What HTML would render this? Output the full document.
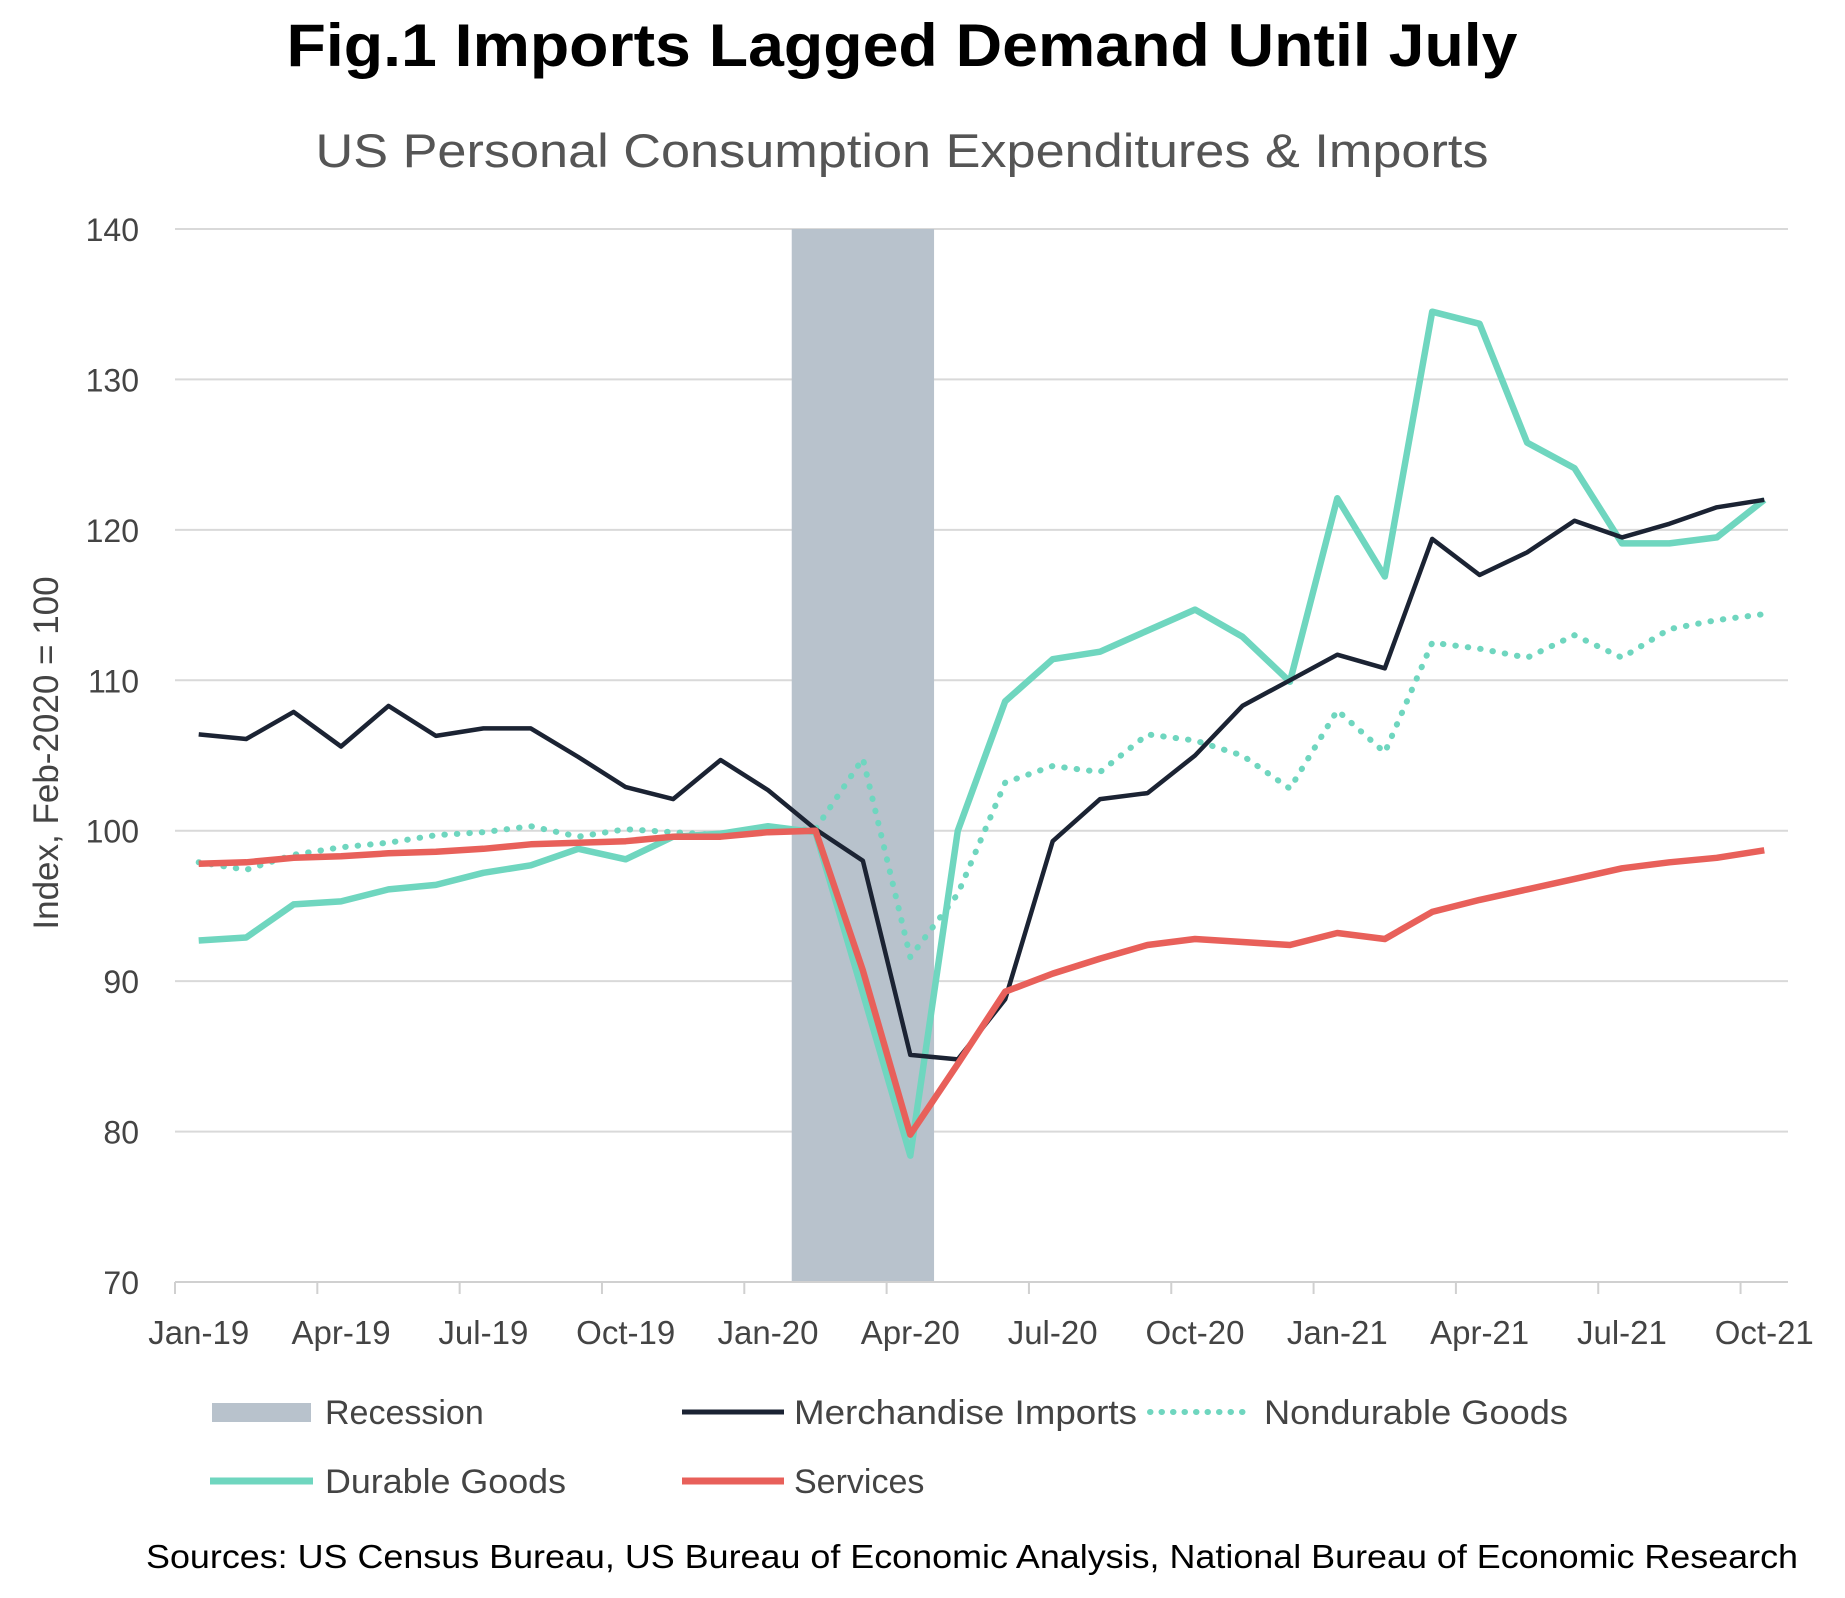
<!DOCTYPE html>
<html><head><meta charset="utf-8"><style>
html,body{margin:0;padding:0;background:#fff}
svg{display:block;font-family:"Liberation Sans",sans-serif}
</style></head><body>
<svg id="chart" width="1845" height="1598" viewBox="0 0 1845 1598" xmlns="http://www.w3.org/2000/svg">
<text x="902" y="66" text-anchor="middle" font-size="60" font-weight="bold" fill="#000" textLength="1231" lengthAdjust="spacingAndGlyphs">Fig.1 Imports Lagged Demand Until July</text>
<text x="902" y="167" text-anchor="middle" font-size="47" fill="#555" textLength="1173" lengthAdjust="spacingAndGlyphs">US Personal Consumption Expenditures &amp; Imports</text>
<g id="grid"></g>
<g id="recession"></g>
<g id="series"></g>
<g id="axes"></g>
<text transform="translate(58,753) rotate(-90)" text-anchor="middle" font-size="35" fill="#444">Index, Feb-2020 = 100</text>
<g>
  <rect x="212" y="1403" width="99" height="19" fill="#b8c2cc"/>
  <text x="325" y="1424" font-size="34" fill="#444">Recession</text>
  <line x1="682" y1="1412" x2="784" y2="1412" stroke="#1b2333" stroke-width="5"/>
  <text x="794" y="1424" font-size="34" fill="#444" textLength="343" lengthAdjust="spacingAndGlyphs">Merchandise Imports</text>
  <line x1="1150" y1="1412" x2="1252" y2="1412" stroke="#6fd6bf" stroke-width="6" stroke-dasharray="0.5 11" stroke-linecap="round"/>
  <text x="1264" y="1424" font-size="34" fill="#444" textLength="304" lengthAdjust="spacingAndGlyphs">Nondurable Goods</text>
  <line x1="210" y1="1481" x2="313" y2="1481" stroke="#6fd6bf" stroke-width="7"/>
  <text x="325" y="1493" font-size="34" fill="#444" textLength="241" lengthAdjust="spacingAndGlyphs">Durable Goods</text>
  <line x1="682" y1="1481" x2="784" y2="1481" stroke="#e8605a" stroke-width="7"/>
  <text x="794" y="1493" font-size="34" fill="#444">Services</text>
</g>
<text x="146" y="1568" font-size="33" fill="#000" textLength="1652" lengthAdjust="spacingAndGlyphs">Sources: US Census Bureau, US Bureau of Economic Analysis, National Bureau of Economic Research</text>
</svg>
<script>
const xLabels = ["Jan-19","Apr-19","Jul-19","Oct-19","Jan-20","Apr-20","Jul-20","Oct-20","Jan-21","Apr-21","Jul-21","Oct-21"];
const yTicks = [70,80,90,100,110,120,130,140];
const recessionStart = 13, recessionEnd = 16;
const imports = [106.4,106.1,107.9,105.6,108.3,106.3,106.8,106.8,104.9,102.9,102.1,104.7,102.7,100.1,98.0,85.1,84.8,88.8,99.3,102.1,102.5,105.0,108.3,110.0,111.7,110.8,119.4,117.0,118.5,120.6,119.5,120.4,121.5,122.0];
const durable = [92.7,92.9,95.1,95.3,96.1,96.4,97.2,97.7,98.8,98.1,99.6,99.8,100.3,99.9,89.2,78.4,100.0,108.6,111.4,111.9,113.3,114.7,112.9,109.9,122.1,116.9,134.5,133.7,125.8,124.1,119.1,119.1,119.5,122.0];
const nondurable = [97.9,97.4,98.4,98.9,99.2,99.7,99.9,100.3,99.6,100.1,99.9,99.7,100.0,100.1,104.8,91.6,95.8,103.2,104.3,103.9,106.4,106.0,105.0,102.8,108.0,105.2,112.5,112.1,111.5,113.0,111.5,113.4,114.0,114.4];
const services = [97.8,97.9,98.2,98.3,98.5,98.6,98.8,99.1,99.2,99.3,99.6,99.6,99.9,100.0,90.7,79.8,84.5,89.3,90.5,91.5,92.4,92.8,92.6,92.4,93.2,92.8,94.6,95.4,96.1,96.8,97.5,97.9,98.2,98.7];

const NS="http://www.w3.org/2000/svg";
const X0=175, X1=1788, NB=34, BW=(X1-X0)/NB;
const yTop=229, yBot=1282, vMin=70, vMax=140;
const xBin=i=>X0+BW*i;
const xPt=i=>X0+BW*(i+0.5);
const yS=v=>yBot-(v-vMin)/(vMax-vMin)*(yBot-yTop);
function mk(tag,attrs,parent){const e=document.createElementNS(NS,tag);for(const k in attrs)e.setAttribute(k,attrs[k]);parent.appendChild(e);return e;}
const grid=document.getElementById('grid'), axes=document.getElementById('axes'), ser=document.getElementById('series'), rec=document.getElementById('recession');
yTicks.forEach(v=>{
  if(v!==vMin){const l=mk('line',{x1:X0,x2:X1,y1:yS(v),y2:yS(v),stroke:'#d9d9d9','stroke-width':2},grid);
  
  }
  const t=mk('text',{x:139,y:yS(v)+12,'text-anchor':'end','font-size':32,fill:'#444'},axes);
  t.textContent=v;
  
  
});
const r=mk('rect',{x:xBin(recessionStart),y:yTop,width:xBin(recessionEnd)-xBin(recessionStart),height:yBot-yTop,fill:'#b8c2cc'},rec);


const ax=mk('line',{x1:X0,x2:X1,y1:yBot,y2:yBot,stroke:'#d0d0d0','stroke-width':2},axes);


for(let k=0;k<=NB;k+=3){
  const tk=mk('line',{x1:xBin(k),x2:xBin(k),y1:yBot,y2:yBot+12,stroke:'#d0d0d0','stroke-width':2},axes);
  
  
}
xLabels.forEach((s,j)=>{
  const t=mk('text',{x:xPt(j*3),y:1344,'text-anchor':'middle','font-size':33,fill:'#444'},axes);
  t.textContent=s;
  
  
});
function line(data,name,color,w,dash){
  const d=data.map((v,i)=>(i?'L':'M')+xPt(i).toFixed(1)+','+yS(v).toFixed(1)).join('');
  const a={d:d,fill:'none',stroke:color,'stroke-width':w,'stroke-linejoin':'round'};
  if(dash){a['stroke-dasharray']=dash;a['stroke-linecap']='round';}
  const p=mk('path',a,ser);
  
  
}
line(nondurable,'nondurable-goods-line','#6fd6bf',6,'0.5 12');
line(durable,'durable-goods-line','#6fd6bf',6.5);
line(imports,'merchandise-imports-line','#1b2333',4.5);
line(services,'services-line','#e8605a',6.5);
</script>
</body></html>
